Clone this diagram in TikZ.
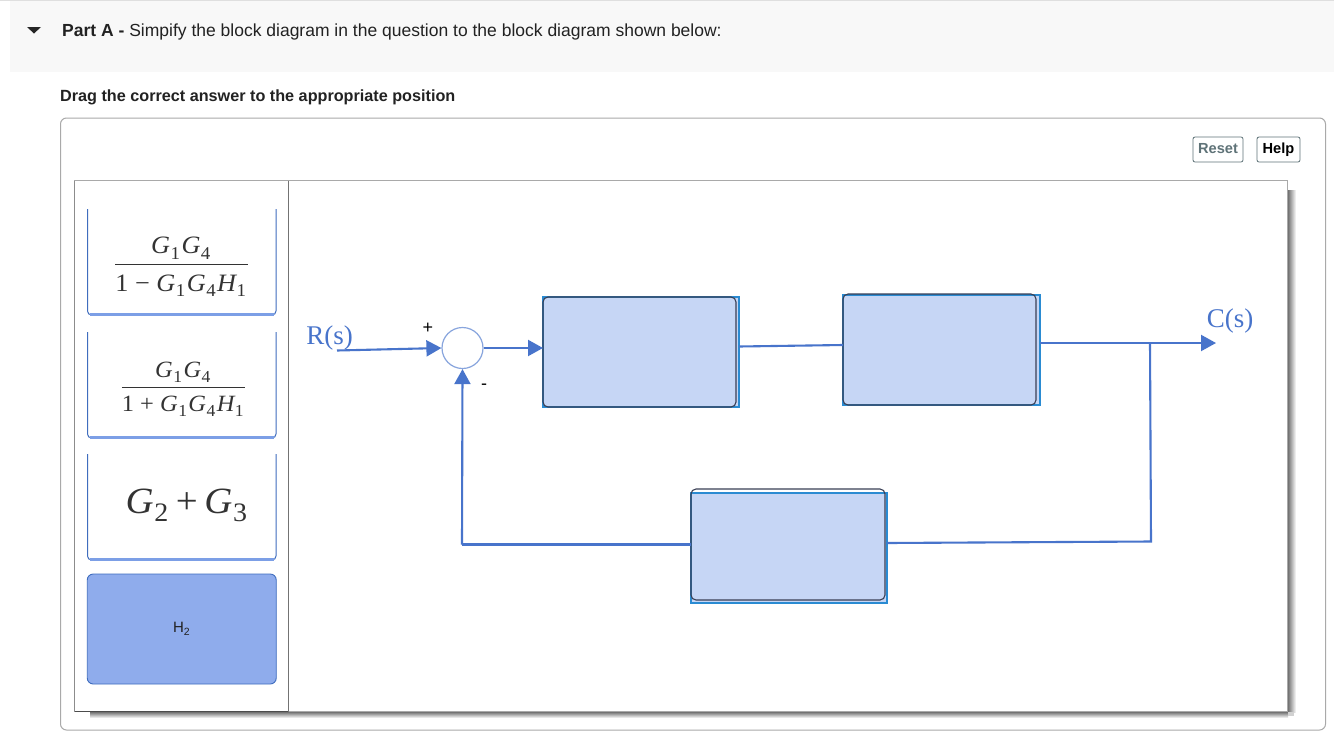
\documentclass[tikz,border=0pt]{standalone}
\usepackage{fontspec}
\setmainfont{Liberation Sans}
\newfontfamily\serifpart{Liberation Serif}
\newfontfamily\mathpart[FakeStretch=1.05]{Liberation Serif}
\usetikzlibrary{arrows.meta,shadings}
\definecolor{lineblue}{HTML}{4874CB}
\definecolor{fillblue}{HTML}{C6D6F5}
\definecolor{edgeblue}{HTML}{2A8BD2}
\definecolor{darkedge}{HTML}{3A3F55}
\definecolor{cardblue}{HTML}{7C9FE6}
\definecolor{cardfill}{HTML}{8FACEC}
\definecolor{cardedge}{HTML}{3F6DBE}
\definecolor{panelgray}{HTML}{A9A9A9}
\definecolor{bandgray}{HTML}{F8F8F8}
\definecolor{txt}{HTML}{222222}
\definecolor{btn}{HTML}{5F7378}
\newcommand{\Vr}[2]{{\itshape #1}\kern.02em\raisebox{-.22em}{\fontsize{.72em}{1em}\selectfont #2}\kern.06em}
\newcommand{\FrcB}[3]{$\displaystyle{\hbox{#1}\above 1.3pt \hbox{\rule{0pt}{#3}#2}}$}
\tikzset{
 x=1pt,y=-1pt,
 conn/.style={draw=lineblue,line width=2.1pt},
 arr/.style={conn,-{Triangle[length=15pt,width=16pt]}},
 bluebox/.style={draw=edgeblue,line width=1.4pt,fill=fillblue,minimum width=#1,inner sep=0pt,outer sep=0pt},
 darkbox/.style={draw=darkedge,line width=1.1pt,rounded corners=5pt,inner sep=0pt,outer sep=0pt},
 opencard/.style={draw=cardedge,line width=1pt},
 cardbase/.style={draw=cardblue,line width=2.6pt},
 btnbox/.style={draw=btn,line width=.8pt,rounded corners=2pt,inner sep=0pt,minimum height=25pt,text height=.72em,text depth=0pt,font=\fontsize{14.6}{16}\selectfont\bfseries},
 sig/.style={text=lineblue,font=\serifpart\fontsize{27}{28}\selectfont,inner sep=0pt},
 sign/.style={font=\fontsize{18}{18}\selectfont,inner sep=0pt},
 mathnode/.style={text=black!80,inner sep=0pt,font=\mathpart},
}
\begin{document}
\begin{tikzpicture}
\useasboundingbox (0,0) rectangle (1334,737);
\fill[white] (0,0) rectangle (1334,737);
% header band
\fill[bandgray] (10,1) rectangle (1334,72);
\draw[gray!25,line width=1pt] (0,.5) -- (1334,.5);
\fill[black!85] (27,27) -- (41,27) -- (34,33.5) -- cycle;
\node[anchor=base west,inner sep=0pt,text=txt,font=\fontsize{17.5}{20}\selectfont] (title) at (62,36) {\textbf{Part A -} Simpify the block diagram in the question to the block diagram shown below:};
\node[anchor=base west,inner sep=0pt,text=txt,font=\fontsize{16.2}{20}\selectfont\bfseries] (drag) at (60,101) {Drag the correct answer to the appropriate position};
% outer panel
\draw[panelgray,line width=1pt,rounded corners=6pt] (60.5,118) rectangle (1325.5,730);
\node[btnbox,text=btn,minimum width=50pt] (reset) at (1218,149.5) {Reset};
\node[btnbox,text=black,minimum width=43pt] (help) at (1278.5,149.5) {Help};
% shadow
\shade[left color=black!55,right color=white] (1288,190) rectangle (1296,712);
\shade[top color=black!55,bottom color=white] (90,712) rectangle (1288,718);
\fill[black!18] (1288,712) rectangle (1294,716);
% panel
\draw[panelgray,line width=1pt,fill=white] (74.5,180.5) rectangle (1287.5,711.5);
\draw[black!70,line width=1.4pt] (74.5,711.5) -- (288,711.5);
\draw[black!45,line width=1pt] (74.5,180.5) -- (74.5,711.5);
\draw[black!55,line width=1pt] (288,180.5) -- (288,711.5);
% cards
\foreach \t/\b in {209/315,332/438,454/560}{
 \draw[opencard,rounded corners=4pt] (87.5,\t) -- (87.5,\b) -- (276,\b) -- (276,\t);
 \draw[cardbase] (90,\b-.5) -- (274,\b-.5);
}
\node[mathnode,font=\mathpart\fontsize{25}{28}\selectfont] (c1) at (181.5,267) {\FrcB{\Vr{G}{1}\Vr{G}{4}}{1 − \Vr{G}{1}\Vr{G}{4}\Vr{H}{1}}{.9em}};
\node[mathnode,font=\mathpart\fontsize{23.3}{26}\selectfont] (c2) at (183.5,389) {\FrcB{\Vr{G}{1}\Vr{G}{4}}{1 + \Vr{G}{1}\Vr{G}{4}\Vr{H}{1}}{.7em}};
\node[mathnode,font=\mathpart\fontsize{37}{42}\selectfont] (c3) at (187.5,505) {\Vr{G}{2}\kern.14em+\kern.18em\Vr{G}{3}};
\node[draw=cardedge,line width=.9pt,fill=cardfill,rounded corners=6pt,minimum width=189pt,minimum height=110pt,inner sep=0pt,text=txt,font=\fontsize{15}{16}\selectfont] (c4) at (181.75,629) {H\textsubscript{2}};
% blocks
\node[bluebox=196pt,minimum height=110pt] (b1) at (641,352) {};
\node[darkbox,minimum width=193pt,minimum height=110pt] (b1i) at (639.5,352) {};
\node[bluebox=197pt,minimum height=110pt] (b2) at (941.5,350) {};
\node[darkbox,minimum width=193pt,minimum height=111pt] (b2i) at (939.5,349.5) {};
\node[bluebox=196pt,minimum height=110pt] (b3) at (789,548) {};
\node[darkbox,minimum width=194pt,minimum height=111pt] (b3i) at (788,544.5) {};
% summing junction
\node[circle,draw=lineblue!65,line width=1.2pt,fill=white,minimum size=41pt,inner sep=0pt] (sum) at (462.5,348) {};
% labels
\node[sig,anchor=base] (rs) at (329.5,344) {R(s)};
\node[sig,anchor=base] (cs) at (1230,327.5) {C(s)};
\node[sign] (plus) at (428,328) {+};
\node[sign] (minus) at (484,387) {-};
% connectors
\coordinate (rstart) at (337,350.5);
\coordinate (cend) at (1216,343);
\coordinate (branch) at (1150,343);
\coordinate (fbcorner) at (1151,541.5);
\coordinate (fbleft) at (462,544.5);
\draw[arr] (rstart) -- (sum.west);
\draw[arr] (sum.east) -- (b1.west |- sum.east);
\draw[conn] (b1.east |- 0,346.5) -- (b2.west |- 0,345);
\draw[arr] (b2.east |- cend) -- (cend);
\draw[conn] (branch) -- (fbcorner) -- (b3.east |- 0,543);
\draw[conn] (b3.west |- fbleft) -- (fbleft);
\draw[arr] (fbleft) -- (sum.south);
\end{tikzpicture}
\end{document}
